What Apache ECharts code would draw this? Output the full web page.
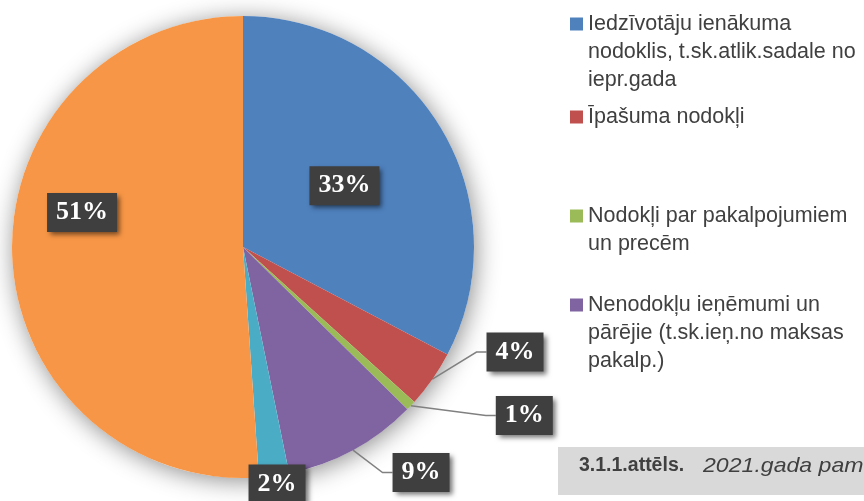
<!DOCTYPE html>
<html><head><meta charset="utf-8">
<script src="https://cdn.jsdelivr.net/npm/echarts@6/dist/echarts.min.js"></script>
<style>html,body{margin:0;padding:0;background:#fff}#c{width:864px;height:501px}</style>
</head><body><div id="c"></div>
<script>
// ---- data ----
const legendLines = [
  ['Iedzīvotāju ienākuma', 'nodoklis, t.sk.atlik.sadale no', 'iepr.gada'],
  ['Īpašuma nodokļi'],
  ['Nodokļi par pakalpojumiem', 'un precēm'],
  ['Nenodokļu ieņēmumi un', 'pārējie (t.sk.ieņ.no maksas', 'pakalp.)']
];
const categories = [
  legendLines[0].join(' '),
  legendLines[1].join(' '),
  legendLines[2].join(' '),
  legendLines[3].join(' '),
  'Citi ieņēmumi',
  'Transferti'
];
const values = [32.7, 4.0, 0.7, 9.4, 2.1, 51.1];
const captionBold = '3.1.1.attēls.';
const captionItalic = '2021.gada pam';

// ---- styling ----
const colors = ['#4F81BD', '#C0504D', '#9BBB59', '#8064A2', '#4BACC6', '#F79646'];
const insideLabels = [0, 5];
const noLine = [4];
const labelShift = [[0, 0], [26.8, -35.8], [59, -0.4], [17.4, 9.2], [-42.6, -6.8], [-42.5, -38.5]];
const legendTops = [10, 103, 202, 291];
const LH = 28;
const C = [243, 247], R = 231;
const FONT = '"Liberation Sans", Arial, sans-serif';

function iconPath(n) {
  return 'path://M0,0M0,7.5L13,7.5L13,20.5L0,20.5ZM0,' + (n * LH);
}

const chart = echarts.init(document.getElementById('c'), null, {renderer: 'canvas'});
chart.setOption({
  animation: false,
  backgroundColor: '#fff',
  legend: legendLines.map((lines, i) => ({
    data: [{name: categories[i], icon: iconPath(lines.length)}],
    orient: 'vertical',
    left: 570,
    top: legendTops[i],
    padding: 0,
    itemWidth: 13,
    itemHeight: lines.length * LH,
    itemGap: 0,
    selectedMode: false,
    formatter: () => lines.join('\n'),
    textStyle: {fontFamily: FONT, fontSize: 21.5, lineHeight: LH, color: '#404040'}
  })),
  graphic: [
    {type: 'rect', x: 558, y: 447, silent: true, shape: {width: 306, height: 48}, style: {fill: '#d9d9d9'}},
    {type: 'text', x: 579, y: 466, silent: true,
     style: {text: captionBold, fontSize: 19.5, fontWeight: 'bold', fontFamily: FONT, fill: '#404040', verticalAlign: 'middle'}},
    {type: 'text', x: 703, y: 466, scaleX: 1.1, silent: true,
     style: {text: captionItalic, fontSize: 21, fontStyle: 'italic', fontFamily: FONT, fill: '#404040', verticalAlign: 'middle'}}
  ],
  series: [
    {
      type: 'pie', silent: true, radius: R, center: C, z: 1,
      data: [{value: 1, name: '__shadow'}],
      itemStyle: {color: '#fff', shadowBlur: 24, shadowColor: 'rgba(0,0,0,0.45)', shadowOffsetX: 2, shadowOffsetY: 3},
      label: {show: false}, labelLine: {show: false}, emphasis: {disabled: true}
    },
    {
      type: 'pie', radius: R, center: C, z: 2,
      startAngle: 90, clockwise: true, avoidLabelOverlap: false,
      emphasis: {scale: false},
      data: categories.map((n, i) => ({
        name: n, value: values[i],
        itemStyle: {color: colors[i]},
        label: {position: insideLabels.includes(i) ? 'inside' : 'outside'},
        labelLine: {show: !insideLabels.includes(i) && !noLine.includes(i)}
      })),
      itemStyle: {borderWidth: 0},
      label: {
        formatter: p => Math.round(p.percent) + '%',
        color: '#fff',
        fontFamily: '"Liberation Serif", "Times New Roman", serif',
        fontWeight: 'bold', fontSize: 26, lineHeight: 26,
        textBorderWidth: 0,
        backgroundColor: '#3f3f3f',
        padding: [7, 9, 6, 9],
        shadowColor: 'rgba(0,0,0,0.55)', shadowBlur: 5, shadowOffsetX: 3, shadowOffsetY: 3
      },
      labelLine: {length: 15, length2: 10, smooth: false, lineStyle: {color: '#808080', width: 1.5}},
      labelLayout: function (p) {
        const s = labelShift[p.dataIndex];
        if (!s || (s[0] === 0 && s[1] === 0)) return {};
        const r = p.labelRect;
        return {x: r.x + r.width / 2 + s[0], y: r.y + r.height / 2 + s[1], align: 'center', verticalAlign: 'middle'};
      }
    }
  ]
});
</script>
</body></html>
